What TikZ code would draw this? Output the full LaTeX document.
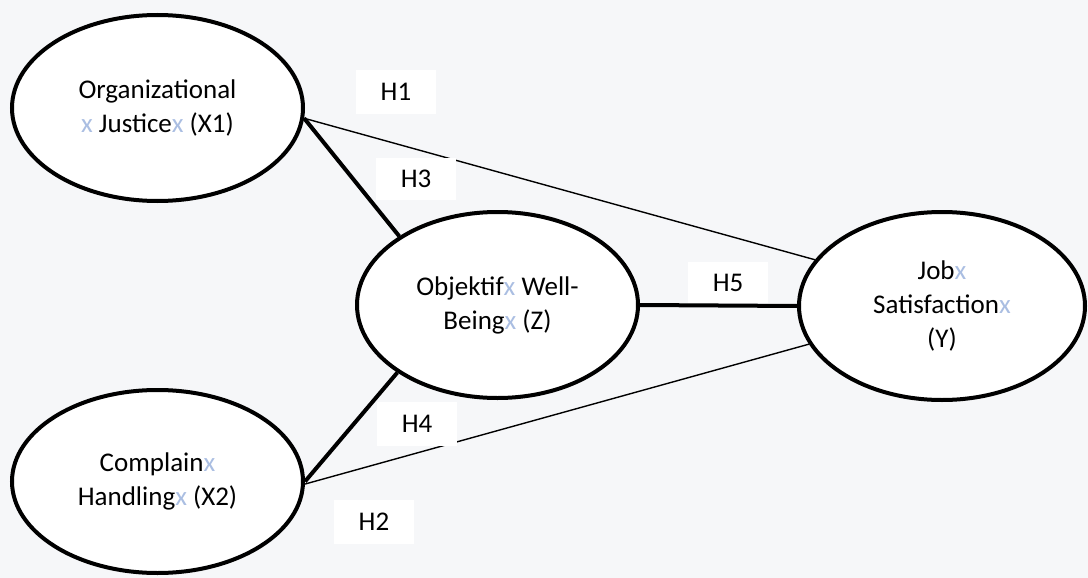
\documentclass[tikz,border=0pt]{standalone}
\usepackage{fontspec}
\setmainfont{Carlito}
\usetikzlibrary{shapes.geometric}

\definecolor{pagebg}{RGB}{246,247,249}
\definecolor{marker}{RGB}{170,190,226}
\newcommand{\mk}{\textcolor{marker}{x}}

\begin{document}
\begin{tikzpicture}[
        x=1pt, y=-1pt,
        every node/.style={font=\fontsize{27}{34}\selectfont},
        construct/.style={ellipse, draw=black, line width=4pt, fill=white, align=center, inner sep=0pt},
        hypo/.style={rectangle, fill=white, minimum width=80pt, minimum height=44pt, inner sep=0pt},
        thin_path/.style={line width=1.4pt},
        thick_path/.style={line width=4pt}
        ]

        % Page
        \fill[pagebg] (0,0) rectangle (1088,578);
        \useasboundingbox (0,0) rectangle (1088,578);

        % Constructs
        \node[construct, minimum width=291pt, minimum height=186pt] (X1) at (157.5,108) {Organizational\\\mk{} Justice\mk{} (X1)};
        \node[construct, minimum width=291pt, minimum height=183pt] (X2) at (157.5,481.5) {Complain\mk\\Handling\mk{} (X2)};
        \node[construct, minimum width=281pt, minimum height=186pt] (Z) at (497.5,305) {Objektif\mk{} Well-\\Being\mk{} (Z)};
        \node[construct, minimum width=286pt, minimum height=188pt] (Y) at (942,306) {Job\mk\\Satisfaction\mk\\(Y)};

        % Direct effects (thin)
        \draw[thin_path] (X1.-4) -- (Y.160);
        \draw[thin_path] (X2.-1) -- (Y.196);

        % Paths through Z (thick)
        \draw[thick_path] (X1.-4) -- (Z.145);
        \draw[thick_path] (X2.0) -- (Z.214);

        % Hypothesis labels
        \node[hypo] (h1) at (396,92) {H1};
        \node[hypo, minimum height=42pt] (h3) at (416,179) {H3};
        \node[hypo, minimum height=41pt] (h5) at (728,282.5) {H5};
        \node[hypo] (h4) at (417,424) {H4};
        \node[hypo] (h2) at (374,522) {H2};

        % Z to Y on top of its label
        \draw[thick_path] (Z.east) -- (Y.west);

    \end{tikzpicture}
\end{document}
